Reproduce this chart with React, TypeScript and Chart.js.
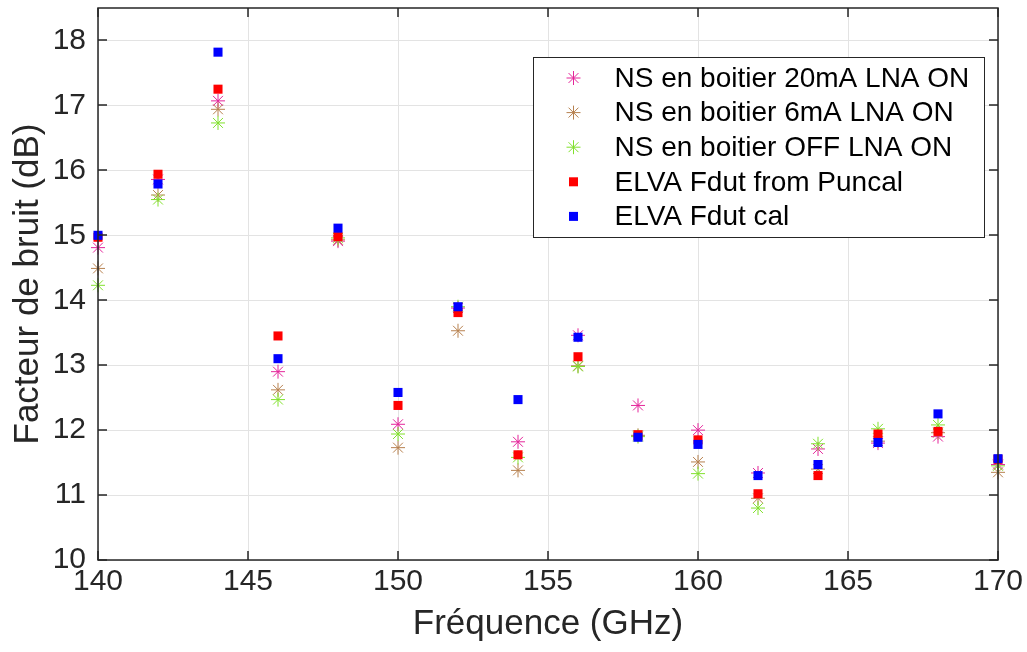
import React, { useEffect, useRef } from 'react';
import { Chart, registerables } from 'chart.js';

Chart.register(...registerables);

// ---- Data ----
const freqs = [140, 142, 144, 146, 148, 150, 152, 154, 156, 158, 160, 162, 164, 166, 168, 170];
const ns20mA = [14.81, 15.86, 17.07, 12.9, 14.91, 12.09, 13.88, 11.82, 13.46, 12.38, 12.0, 11.34, 11.71, 11.8, 11.9, 11.47];
const ns6mA = [14.49, 15.62, 16.94, 12.62, 14.93, 11.73, 13.53, 11.38, 12.99, 11.92, 11.51, 10.95, 11.4, 11.83, 11.96, 11.35];
const nsOff = [14.23, 15.55, 16.73, 12.47, 14.96, 11.94, 13.9, 11.58, 12.98, 11.9, 11.33, 10.8, 11.79, 12.02, 12.08, 11.45];
const elvaPuncal = [14.97, 15.94, 17.25, 13.45, 14.98, 12.38, 13.81, 11.62, 13.13, 11.93, 11.85, 11.02, 11.3, 11.94, 11.98, 11.55];
const elvaCal = [15.0, 15.79, 17.82, 13.1, 15.11, 12.58, 13.9, 12.47, 13.43, 11.89, 11.78, 11.3, 11.47, 11.81, 12.25, 11.56];

const seriesLabels = [
  'NS en boitier 20mA LNA ON',
  'NS en boitier 6mA LNA ON',
  'NS en boitier OFF LNA ON',
  'ELVA Fdut from Puncal',
  'ELVA Fdut cal',
];
const seriesValues = [ns20mA, ns6mA, nsOff, elvaPuncal, elvaCal];
const seriesColors = ['#e4259a', '#b7814f', '#80e12c', '#ff0000', '#0000ff'];
const seriesStyles = ['star', 'star', 'star', 'rect', 'rect'];

const xTickValues = [140, 145, 150, 155, 160, 165, 170];
const yTickValues = [10, 11, 12, 13, 14, 15, 16, 17, 18];
const xTitle = 'Fréquence (GHz)';
const yTitle = 'Facteur de bruit (dB)';

const FONT = "'Liberation Sans', Arial, Helvetica, sans-serif";
const AXIS_COLOR = '#262626';
const STAR_R = 7;
const RECT_R = 6.4;

function drawMarker(ctx: CanvasRenderingContext2D, style: string, color: string, x: number, y: number) {
  ctx.save();
  if (style === 'rect') {
    ctx.fillStyle = color;
    ctx.fillRect(x - 4.5, y - 4.5, 9, 9);
  } else {
    ctx.strokeStyle = color;
    ctx.lineWidth = 1;
    ctx.beginPath();
    let rad = 0;
    for (let i = 0; i < 4; i++) {
      const dx = Math.cos(rad) * STAR_R;
      const dy = Math.sin(rad) * STAR_R;
      ctx.moveTo(x - dx, y - dy);
      ctx.lineTo(x + dx, y + dy);
      rad += Math.PI / 4;
    }
    ctx.stroke();
  }
  ctx.restore();
}

const boxPlugin = {
  id: 'matlabBox',
  afterDatasetsDraw(chart: any) {
    const { ctx, chartArea: a, scales } = chart;
    ctx.save();
    ctx.strokeStyle = AXIS_COLOR;
    ctx.lineWidth = 1.5;
    ctx.strokeRect(a.left, a.top, a.right - a.left, a.bottom - a.top);
    const tl = 9;
    ctx.beginPath();
    scales.x.ticks.forEach((t: any) => {
      const px = Math.round(scales.x.getPixelForValue(t.value));
      ctx.moveTo(px, a.bottom);
      ctx.lineTo(px, a.bottom - tl);
      ctx.moveTo(px, a.top);
      ctx.lineTo(px, a.top + tl);
    });
    scales.y.ticks.forEach((t: any) => {
      const py = Math.round(scales.y.getPixelForValue(t.value));
      ctx.moveTo(a.left, py);
      ctx.lineTo(a.left + tl, py);
      ctx.moveTo(a.right, py);
      ctx.lineTo(a.right - tl, py);
    });
    ctx.stroke();
    ctx.restore();
  },
};

const legendPlugin = {
  id: 'insideLegend',
  afterDraw(chart: any) {
    const { ctx, chartArea: a } = chart;
    const w = 451;
    const h = 180;
    const left = Math.round(a.right - 14 - w) + 0.5;
    const top = Math.round(a.top + 49) + 0.5;
    ctx.save();
    ctx.fillStyle = '#ffffff';
    ctx.fillRect(left, top, w, h);
    ctx.strokeStyle = AXIS_COLOR;
    ctx.lineWidth = 1;
    ctx.strokeRect(left, top, w, h);
    ctx.font = `28px ${FONT}`;
    ctx.fillStyle = '#000000';
    ctx.textBaseline = 'middle';
    ctx.textAlign = 'left';
    seriesLabels.forEach((label, i) => {
      const cy = top + 20.5 + i * 34.6;
      drawMarker(ctx, seriesStyles[i], seriesColors[i], left + 40, cy);
      ctx.fillText(label, left + 81, cy + 1);
    });
    ctx.restore();
  },
};

export default function App() {
  const canvasRef = useRef<HTMLCanvasElement | null>(null);

  useEffect(() => {
    if (!canvasRef.current) return;
    const datasets = seriesLabels.map((label, i) => ({
      label,
      data: freqs.map((f, j) => ({ x: f, y: seriesValues[i][j] })),
      pointStyle: seriesStyles[i],
      pointRadius: seriesStyles[i] === 'rect' ? RECT_R : STAR_R,
      pointBorderWidth: seriesStyles[i] === 'rect' ? 0 : 1,
      backgroundColor: seriesColors[i],
      borderColor: seriesColors[i],
      showLine: false,
      clip: false as any,
      order: seriesLabels.length - i,
    }));

    const chart = new Chart(canvasRef.current, {
      type: 'scatter',
      data: { datasets },
      options: {
        animation: false,
        responsive: false,
        devicePixelRatio: 1,
        layout: { padding: { left: 0, top: 7, right: 29, bottom: 0 } },
        plugins: {
          legend: { display: false },
          tooltip: { enabled: false },
        },
        scales: {
          x: {
            type: 'linear',
            min: 140,
            max: 170,
            afterBuildTicks: (s: any) => {
              s.ticks = xTickValues.map((v) => ({ value: v }));
            },
            afterFit: (s: any) => {
              s.height = 92;
              s.paddingLeft = 0;
              s.paddingRight = 0;
            },
            ticks: {
              font: { size: 30, family: FONT },
              color: AXIS_COLOR,
              padding: 4,
              maxRotation: 0,
            },
            grid: { color: '#e3e3e3', lineWidth: 1, drawTicks: false },
            border: { display: false },
            title: {
              display: true,
              text: xTitle,
              font: { size: 35, family: FONT },
              color: AXIS_COLOR,
              padding: { top: 0, bottom: 7 },
            },
          },
          y: {
            type: 'linear',
            min: 10,
            max: 18.5,
            afterBuildTicks: (s: any) => {
              s.ticks = yTickValues.map((v) => ({ value: v }));
            },
            afterFit: (s: any) => {
              s.width = 98;
              s.paddingTop = 0;
              s.paddingBottom = 0;
            },
            ticks: {
              font: { size: 30, family: FONT },
              color: AXIS_COLOR,
              padding: 12,
            },
            grid: { color: '#e3e3e3', lineWidth: 1, drawTicks: false },
            border: { display: false },
            title: {
              display: true,
              text: yTitle,
              font: { size: 35, family: FONT },
              color: AXIS_COLOR,
              padding: { top: 7, bottom: 0 },
            },
          },
        },
      },
      plugins: [boxPlugin, legendPlugin],
    });
    return () => chart.destroy();
  }, []);

  return (
    <div style={{ position: 'fixed', left: 0, top: 0, width: 1027, height: 652, background: '#ffffff' }}>
      <canvas ref={canvasRef} width={1027} height={652} style={{ display: 'block' }} />
    </div>
  );
}
